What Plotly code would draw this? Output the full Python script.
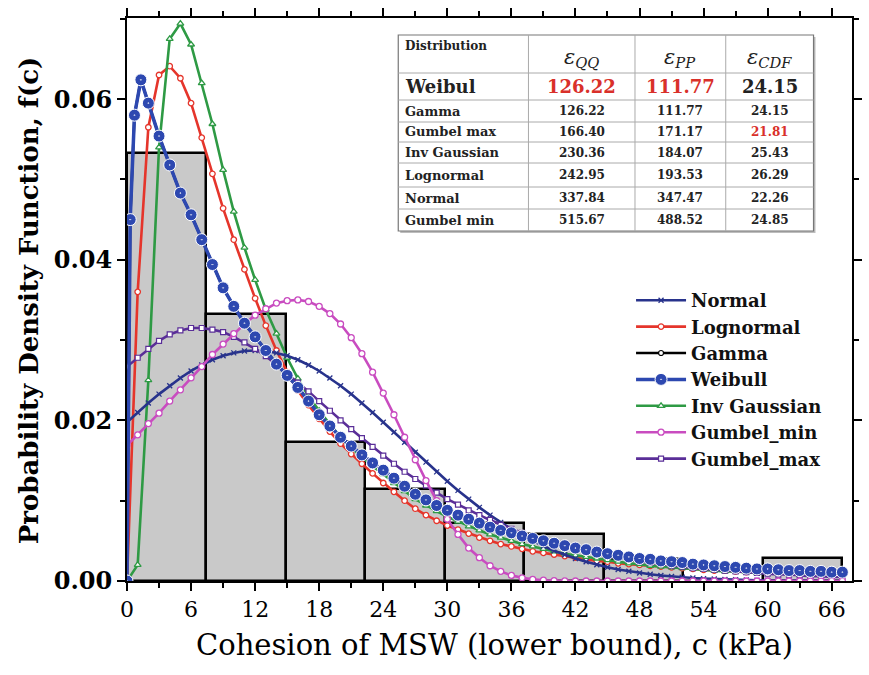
import plotly.graph_objects as go

# ---------------- data ----------------
bin_edges = [0, 7.44, 14.88, 22.32, 29.76, 37.2, 44.64, 52.08, 59.52, 66.96]
hist_density = [0.0533, 0.0333, 0.0173, 0.0115, 0.0072, 0.0058, 0.0028, 0.0, 0.0029]

x_grid = list(range(0, 68))

normal = [0.01977, 0.02098, 0.02216, 0.02327, 0.02432, 0.02528, 0.02615, 0.02690, 0.02754, 0.02804,
          0.02840, 0.02863, 0.02870, 0.02863, 0.02840, 0.02804, 0.02754, 0.02690, 0.02615, 0.02528,
          0.02432, 0.02327, 0.02216, 0.02098, 0.01977, 0.01853, 0.01728, 0.01603, 0.01480, 0.01359,
          0.01241, 0.01128, 0.01019, 0.00917, 0.00820, 0.00730, 0.00646, 0.00569, 0.00499, 0.00435,
          0.00377, 0.00326, 0.00279, 0.00239, 0.00203, 0.00171, 0.00144, 0.00121, 0.00100, 0.00083,
          0.00068, 0.00056, 0.00046, 0.00037, 0.00030, 0.00024, 0.00019, 0.00015, 0.00012, 0.00009,
          0.00007, 0.00006, 0.00004, 0.00003, 0.00003, 0.00002, 0.00002, 0.00001]

lognormal = [0.0, 0.0360, 0.0565, 0.0630, 0.0641, 0.0626, 0.0595, 0.0552, 0.0507, 0.0464,
             0.0425, 0.0388, 0.0352, 0.0318, 0.0287, 0.0260, 0.0237, 0.0219, 0.0202, 0.0186,
             0.0171, 0.0158, 0.0146, 0.0134, 0.0122, 0.0111, 0.0100, 0.0090, 0.0082, 0.0075,
             0.0069, 0.0064, 0.0059, 0.0054, 0.0050, 0.0046, 0.0043, 0.0040, 0.0037, 0.0035,
             0.0033, 0.0031, 0.0029, 0.0027, 0.0025, 0.0024, 0.0022, 0.0021, 0.0020, 0.0019,
             0.0018, 0.0017, 0.0016, 0.0015, 0.0014, 0.0013, 0.0013, 0.0012, 0.0011, 0.0011,
             0.0010, 0.0010, 0.0009, 0.0009, 0.0008, 0.0008, 0.0008, 0.0007]

inv_gaussian = [0.0, 0.0020, 0.0250, 0.0540, 0.0675, 0.0694, 0.0668, 0.0620, 0.0569, 0.0512,
                0.0460, 0.0415, 0.0375, 0.0338, 0.0308, 0.0278, 0.0252, 0.0230, 0.0212, 0.0195,
                0.0179, 0.0166, 0.0154, 0.0143, 0.0133, 0.0122, 0.0112, 0.0102, 0.0094, 0.0087,
                0.0080, 0.0074, 0.0068, 0.0063, 0.0058, 0.0054, 0.0050, 0.0046, 0.0043, 0.0040,
                0.0037, 0.0034, 0.0032, 0.0030, 0.0028, 0.0026, 0.0024, 0.0022, 0.0021, 0.0019,
                0.0018, 0.0017, 0.0016, 0.0015, 0.0014, 0.0013, 0.0012, 0.0012, 0.0011, 0.0010,
                0.0010, 0.0009, 0.0009, 0.0008, 0.0008, 0.0007, 0.0007, 0.0007]

gumbel_min = [0.0169, 0.0182, 0.0196, 0.0209, 0.0224, 0.0238, 0.0253, 0.0267, 0.0282, 0.0295,
              0.0308, 0.0320, 0.0331, 0.0339, 0.0346, 0.0349, 0.0350, 0.0348, 0.0342, 0.0333,
              0.0320, 0.0303, 0.0283, 0.0260, 0.0234, 0.0207, 0.0179, 0.0151, 0.0125, 0.0100,
              0.0077, 0.0058, 0.0041, 0.0029, 0.0019, 0.0012, 0.0007, 0.0004, 0.0002, 0.0001,
              0.00004, 0.00002, 0.0, 0.0, 0.0, 0.0, 0.0, 0.0, 0.0, 0.0,
              0.0, 0.0, 0.0, 0.0, 0.0, 0.0, 0.0, 0.0, 0.0, 0.0,
              0.0, 0.0, 0.0, 0.0, 0.0, 0.0, 0.0, 0.0]

gumbel_max = [0.0267, 0.0278, 0.0289, 0.0299, 0.0307, 0.0312, 0.0315, 0.0315, 0.0313, 0.0310,
              0.0304, 0.0297, 0.0289, 0.0280, 0.0269, 0.0259, 0.0247, 0.0236, 0.0224, 0.0212,
              0.0200, 0.0189, 0.0178, 0.0167, 0.0156, 0.0146, 0.0136, 0.0127, 0.0119, 0.0110,
              0.0102, 0.0095, 0.0088, 0.0082, 0.0076, 0.0070, 0.0065, 0.0060, 0.0055, 0.0051,
              0.0047, 0.0043, 0.0040, 0.0037, 0.0034, 0.0031, 0.0029, 0.0027, 0.0024, 0.0023,
              0.0021, 0.0019, 0.0018, 0.0016, 0.0015, 0.0014, 0.0013, 0.0012, 0.0011, 0.0010,
              0.0009, 0.0008, 0.0008, 0.0007, 0.0006, 0.0006, 0.0005, 0.0005]

weibull_x = [0, 0.3, 0.7, 1.3] + list(range(2, 68))
weibull = [0.0, 0.0450, 0.0580, 0.0624, 0.0595, 0.0554, 0.0518, 0.0483, 0.0456, 0.0425,
           0.0394, 0.0365, 0.0342, 0.0321, 0.0304, 0.0287, 0.0270, 0.0256, 0.0241, 0.0224,
           0.0207, 0.0193, 0.0179, 0.0168, 0.0157, 0.0147, 0.0138, 0.0128, 0.0118, 0.0108,
           0.0101, 0.0094, 0.0088, 0.0082, 0.0077, 0.0072, 0.0067, 0.0063, 0.0060, 0.0056,
           0.0053, 0.0050, 0.0047, 0.0044, 0.0041, 0.0039, 0.0036, 0.0034, 0.0032, 0.0030,
           0.0028, 0.0027, 0.0025, 0.0024, 0.0023, 0.0021, 0.0020, 0.0019, 0.0018, 0.0017,
           0.0016, 0.0015, 0.0015, 0.0014, 0.0013, 0.0013, 0.0012, 0.0012, 0.0011, 0.0011]
gamma = weibull  # identical fit (same errors in the table), drawn under Weibull

# table
tbl_dist = ["Weibul", "Gamma", "Gumbel max", "Inv Gaussian", "Lognormal", "Normal", "Gumbel min"]
tbl_qq = ["126.22", "126.22", "166.40", "230.36", "242.95", "337.84", "515.67"]
tbl_pp = ["111.77", "111.77", "171.17", "184.07", "193.53", "347.47", "488.52"]
tbl_cdf = ["24.15", "24.15", "21.81", "25.43", "26.29", "22.26", "24.85"]
tbl_headers = ["QQ", "PP", "CDF"]
highlight = {(0, 0), (0, 1), (2, 2)}   # (row, value column) shown in red

# ---------------- figure ----------------
FONT = "DejaVu Serif"
W, H = 869, 675
PL, PR, PT, PB = 127, 862, 18, 581


def px_x(x):
    return (x - PL) / (PR - PL)


def px_y(y):
    return (PB - y) / (PB - PT)


fig = go.Figure()

centers = [(bin_edges[i] + bin_edges[i + 1]) / 2 for i in range(len(hist_density))]
widths = [bin_edges[i + 1] - bin_edges[i] for i in range(len(hist_density))]
fig.add_trace(go.Bar(x=centers, y=hist_density, width=widths,
                     marker=dict(color="#C9C9C9", line=dict(color="black", width=2.5)),
                     showlegend=False, hoverinfo="skip"))

LW = 2.6
fig.add_trace(go.Scatter(x=weibull_x, y=gamma, mode="lines+markers", name="Gamma", legendrank=3,
                         line=dict(color="black", width=LW),
                         marker=dict(symbol="circle", size=5, color="white", line=dict(color="black", width=1.2))))
fig.add_trace(go.Scatter(x=x_grid, y=lognormal, mode="lines+markers", name="Lognormal", legendrank=2,
                         line=dict(color="#E5352B", width=LW),
                         marker=dict(symbol="circle", size=5.5, color="white", line=dict(color="#E5352B", width=1.3))))
fig.add_trace(go.Scatter(x=x_grid, y=inv_gaussian, mode="lines+markers", name="Inv Gaussian", legendrank=5,
                         line=dict(color="#2E9A44", width=LW),
                         marker=dict(symbol="triangle-up", size=6, color="white", line=dict(color="#2E9A44", width=1.3))))
fig.add_trace(go.Scatter(x=x_grid, y=normal, mode="lines+markers", name="Normal", legendrank=1,
                         line=dict(color="#28338C", width=LW),
                         marker=dict(symbol="x-thin", size=5, color="#28338C", line=dict(color="#28338C", width=1.3))))
fig.add_trace(go.Scatter(x=x_grid, y=gumbel_max, mode="lines+markers", name="Gumbel_max", legendrank=7,
                         line=dict(color="#5A2E98", width=LW),
                         marker=dict(symbol="square", size=5, color="white", line=dict(color="#5A2E98", width=1.2))))
fig.add_trace(go.Scatter(x=x_grid, y=gumbel_min, mode="lines+markers", name="Gumbel_min", legendrank=6,
                         line=dict(color="#C94CC0", width=LW),
                         marker=dict(symbol="circle", size=6, color="white", line=dict(color="#C94CC0", width=1.3))))
fig.add_trace(go.Scatter(x=weibull_x, y=weibull, mode="lines+markers", name="Weibull", legendrank=4,
                         line=dict(color="#2D48B0", width=3.5),
                         marker=dict(symbol="circle-dot", size=12, color="#2D48B0", line=dict(color="white", width=1))))

axis_common = dict(showline=True, linecolor="black", linewidth=2, mirror="ticks", ticks="outside",
                   ticklen=8, tickwidth=2, tickcolor="black", showgrid=False, zeroline=False)

fig.update_xaxes(range=[0, 67.9], tick0=0, dtick=6,
                 minor=dict(dtick=3, ticks="outside", ticklen=5, tickwidth=1.5, tickcolor="black"),
                 tickfont=dict(family=FONT, size=22, color="black"), **axis_common)
fig.update_yaxes(range=[0, 0.0701], tick0=0, dtick=0.02, tickformat=".2f",
                 minor=dict(dtick=0.01, ticks="outside", ticklen=5, tickwidth=1.5, tickcolor="black"),
                 tickfont=dict(family=FONT, size=24, color="black", weight="bold"), **axis_common)

annotations = [
    dict(text="Cohesion of MSW (lower bound), c (kPa)", x=px_x(500), y=px_y(645), xref="paper", yref="paper",
         showarrow=False, xanchor="center", yanchor="middle", font=dict(family=FONT, size=29, color="black")),
    dict(text="<b>Probability Density Function, f(c)</b>", x=px_x(28), y=px_y(300), xref="paper", yref="paper",
         showarrow=False, xanchor="center", yanchor="middle", textangle=-90,
         font=dict(family=FONT, size=26, color="black")),
]

# ---- table drawn with shapes + annotations ----
T_L, T_R, T_T, T_B = 402, 823, 35, 231
col_x = [T_L, 534, 642, 734, T_R]
row_y = [T_T, 73, 100, 122, 142, 163, 187, 209, T_B]
shapes = [dict(type="rect", xref="paper", yref="paper", x0=px_x(T_L + 2), x1=px_x(T_R + 2),
               y0=px_y(T_T + 2), y1=px_y(T_B + 2), fillcolor="#BDBDBD", line=dict(width=0), layer="above"),
          dict(type="rect", xref="paper", yref="paper", x0=px_x(T_L), x1=px_x(T_R),
               y0=px_y(T_T), y1=px_y(T_B), fillcolor="white", line=dict(color="#777777", width=1.2), layer="above")]
for cx in col_x[1:-1]:
    shapes.append(dict(type="line", xref="paper", yref="paper", x0=px_x(cx), x1=px_x(cx),
                       y0=px_y(T_T), y1=px_y(T_B), line=dict(color="#AAAAAA", width=1), layer="above"))
for ry in row_y[1:-1]:
    shapes.append(dict(type="line", xref="paper", yref="paper", x0=px_x(T_L), x1=px_x(T_R),
                       y0=px_y(ry), y1=px_y(ry), line=dict(color="#AAAAAA", width=1), layer="above"))

annotations.append(dict(text="<b>Distribution</b>", x=px_x(T_L + 5), y=px_y(46), xref="paper", yref="paper",
                        showarrow=False, xanchor="left", yanchor="middle",
                        font=dict(family=FONT, size=12, color="#222222")))
for j, sub in enumerate(tbl_headers):
    cxm = (col_x[j + 1] + col_x[j + 2]) / 2
    annotations.append(dict(text="<i>ε<sub>%s</sub></i>" % sub, x=px_x(cxm), y=px_y(58), xref="paper",
                            yref="paper", showarrow=False, xanchor="center", yanchor="middle",
                            font=dict(family=FONT, size=21, color="#222222")))
for i, name in enumerate(tbl_dist):
    cy = (row_y[i + 1] + row_y[i + 2]) / 2
    big = (i == 0)
    annotations.append(dict(text="<b>%s</b>" % name, x=px_x(T_L + 5), y=px_y(cy), xref="paper", yref="paper",
                            showarrow=False, xanchor="left", yanchor="middle",
                            font=dict(family=FONT, size=18 if big else 13, color="#222222")))
    for j, vals in enumerate([tbl_qq, tbl_pp, tbl_cdf]):
        cxm = (col_x[j + 1] + col_x[j + 2]) / 2
        color = "#D9302A" if (i, j) in highlight else "#222222"
        annotations.append(dict(text="<b>%s</b>" % vals[i], x=px_x(cxm), y=px_y(cy), xref="paper",
                                yref="paper", showarrow=False, xanchor="center", yanchor="middle",
                                font=dict(family=FONT, size=18 if big else 12, color=color)))

fig.update_layout(
    width=W, height=H, margin=dict(l=PL, r=W - PR, t=PT, b=H - PB),
    paper_bgcolor="white", plot_bgcolor="white", bargap=0,
    legend=dict(x=px_x(638), y=px_y(282), xanchor="left", yanchor="top", bgcolor="rgba(0,0,0,0)",
                font=dict(family=FONT, size=18, color="#111111", weight="bold"),
                itemwidth=50, tracegroupgap=0),
    shapes=shapes, annotations=annotations,
)

fig.write_html("out.html")
